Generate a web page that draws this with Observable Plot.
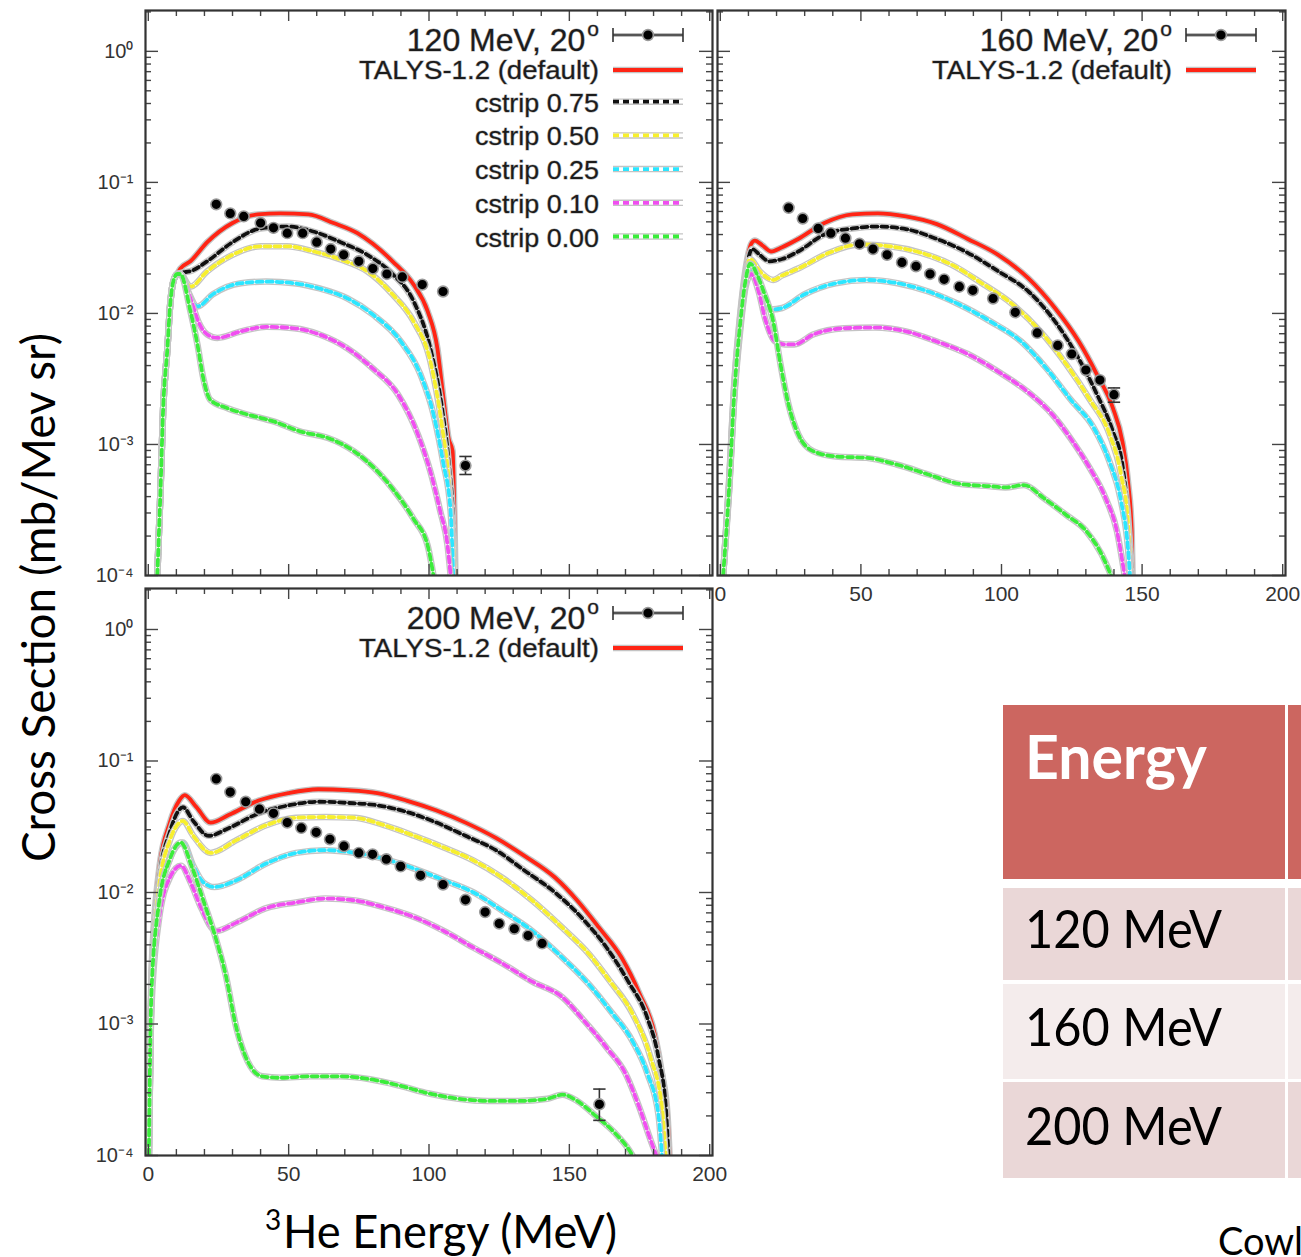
<!DOCTYPE html>
<html><head><meta charset="utf-8">
<script src="https://cdn.jsdelivr.net/npm/d3@7"></script>
<script src="https://cdn.jsdelivr.net/npm/@observablehq/plot@0.6"></script>
<style>
html,body{margin:0;padding:0;background:#fff;}
body{width:1301px;height:1257px;overflow:hidden;position:relative;font-family:"Liberation Sans",Arial,sans-serif;}
.pan{position:absolute;}
#over{position:absolute;left:0;top:0;}
</style></head><body>
<script>
// ---------- tick labels ----------
const xMajor = [0, 50, 100, 150, 200];
const xMinor = [10,20,30,40,60,70,80,90,110,120,130,140,160,170,180,190];
const yMajor = [1e-4, 1e-3, 1e-2, 1e-1, 1];
const yMinorMult = [2,3,4,5,6,7,8,9];

// ---------- series names / styles ----------
const curveNames = ["TALYS-1.2 (default)", "cstrip 0.75", "cstrip 0.50", "cstrip 0.25", "cstrip 0.10", "cstrip 0.00"];
const curveColors = ["#ff2414", "#111111", "#f7ef2e", "#2ce6ff", "#f04ff0", "#3bec3b"];
const curveDash = [null, "6,4", "6,4", "6,4", "6,4", "6,4"];

// ---------- 120 MeV ----------
const talys120 = [[3.2,1e-4],[4.3,4.2e-4],[5.3,1.9e-3],[6.8,5.4e-3],[7.8,1.17e-2],[8.9,1.75e-2],[10.3,2.0e-2],[11.4,2.2e-2],[15,2.5e-2],[21,3.5e-2],[30,4.9e-2],[39,5.7e-2],[47,5.8e-2],[57,5.7e-2],[66,4.9e-2],[74.5,4.1e-2],[80,3.4e-2],[87,2.5e-2],[94.5,1.66e-2],[99.5,1.04e-2],[103,5.4e-3],[105,2.4e-3],[107,1.11e-3],[108.4,8.9e-4],[109.4,1e-4]];
const c075_120 = [[3.2,1e-4],[4.3,4.2e-4],[5.3,1.9e-3],[6.8,5.4e-3],[7.8,1.17e-2],[8.9,1.75e-2],[10.3,2.0e-2],[12,2.05e-2],[15,2.1e-2],[21,2.5e-2],[30,3.5e-2],[40,4.45e-2],[49.5,4.6e-2],[59,4.2e-2],[68.5,3.5e-2],[78,2.8e-2],[87,2.0e-2],[94.5,1.24e-2],[100.5,5.4e-3],[104.8,1.8e-3],[107,7.4e-4],[108.7,2.3e-4],[109.2,1e-4]];
const c050_120 = [[3.2,1e-4],[4.3,4.2e-4],[5.3,1.9e-3],[6.8,5.4e-3],[7.8,1.17e-2],[8.9,1.75e-2],[10.3,2.0e-2],[11.4,2.0e-2],[15,1.6e-2],[21,2.1e-2],[30,2.8e-2],[40,3.25e-2],[49.5,3.25e-2],[59,2.97e-2],[68.5,2.58e-2],[78,2.1e-2],[87,1.4e-2],[94.5,8.7e-3],[100.5,4.3e-3],[104.8,1.3e-3],[107,5.5e-4],[108.7,1.7e-4],[109.2,1e-4]];
const c025_120 = [[3.2,1e-4],[4.3,4.2e-4],[5.3,1.9e-3],[6.8,5.4e-3],[7.8,1.17e-2],[8.9,1.75e-2],[10.3,2.0e-2],[11.4,2.0e-2],[14,1.5e-2],[17.5,1.13e-2],[23,1.4e-2],[33,1.7e-2],[42,1.75e-2],[52,1.7e-2],[61,1.55e-2],[71,1.3e-2],[80,9.8e-3],[90,6.1e-3],[97,3.4e-3],[101.6,1.7e-3],[105,7.4e-4],[107.7,3.1e-4],[108.6,1e-4]];
const c010_120 = [[3.2,1e-4],[4.3,4.2e-4],[5.3,1.9e-3],[6.8,5.4e-3],[7.8,1.17e-2],[8.9,1.75e-2],[10.3,2.0e-2],[11.4,2.0e-2],[15,1.3e-2],[18,8.5e-3],[21,6.9e-3],[24.6,6.5e-3],[33,7.3e-3],[42,7.9e-3],[52,7.7e-3],[61,6.9e-3],[71,5.4e-3],[80,3.8e-3],[89,2.4e-3],[96,1.2e-3],[100.5,6.2e-4],[104,3.1e-4],[106.6,1.7e-4],[107.7,1e-4]];
const c000_120 = [[3.2,1e-4],[4.3,4.2e-4],[5.3,1.9e-3],[6.8,5.4e-3],[7.8,1.17e-2],[8.9,1.75e-2],[10.3,2.0e-2],[11.4,2.0e-2],[15,1.04e-2],[17.5,5.8e-3],[19.6,3.2e-3],[22,2.2e-3],[28,1.9e-3],[35,1.7e-3],[44.6,1.5e-3],[54,1.26e-3],[64,1.12e-3],[68.5,1.02e-3],[78,7.4e-4],[87,4.6e-4],[94.5,2.7e-4],[99.5,1.7e-4],[101.6,1e-4]];
const data120 = [[24.2,0.068],[29.2,0.058],[34,0.055],[40,0.049],[44.6,0.045],[49.5,0.041],[55,0.041],[60,0.035],[65,0.031],[69.6,0.028],[75,0.025],[80,0.022],[85,0.020],[90.5,0.019],[97.6,0.0166],[105,0.0147],[113,6.9e-4]];
const err120 = [[113,5.9e-4,8.1e-4]];

// ---------- 160 MeV ----------
const talys160 = [[1,1e-4],[3.1,5.2e-4],[5,3e-3],[7.1,1e-2],[9.3,2.4e-2],[11,3.4e-2],[12.3,3.6e-2],[15,3.3e-2],[18,2.97e-2],[22,3.2e-2],[27.7,3.7e-2],[37,4.9e-2],[47,5.7e-2],[56,5.8e-2],[66,5.5e-2],[77,4.8e-2],[88,3.7e-2],[98.8,2.8e-2],[109.6,1.85e-2],[119,1.1e-2],[127.5,6.1e-3],[134,3.4e-3],[139.6,1.9e-3],[143,1.05e-3],[145,5.2e-4],[146.3,2.2e-4],[146.6,1e-4]];
const c075_160 = [[1,1e-4],[3.1,5e-4],[5,2.9e-3],[7.1,9.5e-3],[9.3,2.2e-2],[11.3,3.1e-2],[14,2.8e-2],[17.4,2.5e-2],[22,2.6e-2],[27.7,2.97e-2],[37,4.0e-2],[47,4.45e-2],[56,4.6e-2],[66,4.4e-2],[77,3.7e-2],[88,2.9e-2],[98.8,2.1e-2],[109.6,1.47e-2],[119,8.7e-3],[127.5,4.5e-3],[134,2.4e-3],[139.6,1.26e-3],[143,7e-4],[145,2.9e-4],[146.4,1e-4]];
const c050_160 = [[1,1e-4],[3.1,4.8e-4],[5,2.7e-3],[7.1,8.5e-3],[9,1.9e-2],[10.6,2.6e-2],[14,2.1e-2],[18.8,1.8e-2],[22,1.95e-2],[27.7,2.2e-2],[38.6,2.9e-2],[49.5,3.36e-2],[60.4,3.25e-2],[71.4,2.9e-2],[82,2.37e-2],[93,1.7e-2],[104,1.17e-2],[113.8,7.3e-3],[123,4.1e-3],[131.4,2.2e-3],[138.4,1.2e-3],[142.5,5.9e-4],[145,2.5e-4],[146,1e-4]];
const c025_160 = [[1,1e-4],[3.1,4.5e-4],[5,2.5e-3],[7.1,8e-3],[9,1.7e-2],[10.6,2.2e-2],[13,1.8e-2],[16,1.2e-2],[18,1.07e-2],[22,1.1e-2],[30,1.4e-2],[41,1.7e-2],[52,1.8e-2],[63,1.7e-2],[74,1.47e-2],[85,1.17e-2],[96,8.7e-3],[107,6.1e-3],[116,3.8e-3],[124.6,2.2e-3],[132.9,1.33e-3],[138.4,7.4e-4],[142.5,3.7e-4],[145,1.6e-4],[145.7,1e-4]];
const c010_160 = [[1,1e-4],[3.1,4.3e-4],[5,2.3e-3],[7.1,7.5e-3],[9,1.6e-2],[11,2.0e-2],[13.5,1.5e-2],[16,9e-3],[19.5,6.1e-3],[23,5.8e-3],[26.3,5.8e-3],[33,6.9e-3],[44,7.7e-3],[55,7.8e-3],[66,7.3e-3],[77,6.1e-3],[88,4.9e-3],[98.8,3.6e-3],[109.6,2.5e-3],[118,1.7e-3],[124.6,1.11e-3],[131.4,6.6e-4],[137,3.9e-4],[141,2.2e-4],[143.8,1e-4]];
const c000_160 = [[1,1e-4],[3.1,4.5e-4],[5,2.5e-3],[7.1,8.5e-3],[9,1.8e-2],[10.6,2.4e-2],[13,2e-2],[15.4,1.47e-2],[18.8,8.7e-3],[21.4,4.1e-3],[24.3,2e-3],[27.7,1.2e-3],[33,8.9e-4],[41,8.1e-4],[52,7.9e-4],[63,7e-4],[74,5.9e-4],[85,5e-4],[96,4.8e-4],[101.4,4.7e-4],[108,4.9e-4],[115,3.9e-4],[123,2.9e-4],[130,2.2e-4],[135.6,1.45e-4],[139,1e-4]];
const data160 = [[24.3,0.064],[29.3,0.053],[34.8,0.0445],[39.3,0.041],[44.5,0.0375],[49.5,0.034],[54.3,0.031],[59.3,0.028],[64.6,0.0245],[69.6,0.0229],[74.6,0.020],[79.6,0.0182],[85,0.016],[89.8,0.015],[97,0.013],[104.9,0.0102],[112.7,0.0071],[120,0.0057],[125,0.0049],[130,0.0037],[135,0.0031],[140,0.0024]];
const err160 = [[140,0.0021,0.0027]];

// ---------- 200 MeV ----------
const talys200 = [[0.2,1e-4],[1.1,2.4e-3],[3.7,1.4e-2],[7.7,3.4e-2],[11,5.0e-2],[13,5.5e-2],[17,4.5e-2],[22.2,3.4e-2],[28.8,3.9e-2],[39.3,5.0e-2],[49.9,5.7e-2],[60.5,6.1e-2],[71,6.0e-2],[81.6,5.7e-2],[92,5.0e-2],[102.7,4.2e-2],[113,3.4e-2],[123.8,2.6e-2],[134,1.9e-2],[144.9,1.3e-2],[152.8,8.7e-3],[160.6,5.4e-3],[168.6,3.2e-3],[175,1.7e-3],[180.4,8.4e-4],[183,4.2e-4],[185,2e-4],[185.7,1e-4]];
const c075_200 = [[0.2,1e-4],[1.1,2.2e-3],[3.7,1.2e-2],[7.7,2.9e-2],[10.5,4.1e-2],[12.3,4.45e-2],[16,3.5e-2],[21.5,2.7e-2],[28.8,3.1e-2],[39.3,4.0e-2],[50,4.6e-2],[60.5,4.9e-2],[71,4.8e-2],[81.6,4.6e-2],[92,4.1e-2],[102.7,3.4e-2],[113,2.7e-2],[123.8,2.1e-2],[134,1.47e-2],[144.9,1.0e-2],[155.4,6.1e-3],[163.3,3.8e-3],[171,2.1e-3],[177.8,1.11e-3],[181.8,5.5e-4],[184.4,2.3e-4],[185.3,1e-4]];
const c050_200 = [[0.2,1e-4],[1.1,2e-3],[3.7,1.05e-2],[7.7,2.5e-2],[10.5,3.3e-2],[12.3,3.5e-2],[16,2.7e-2],[22.2,2.0e-2],[31.4,2.5e-2],[42,3.25e-2],[52.6,3.7e-2],[63,3.75e-2],[73.7,3.7e-2],[84,3.25e-2],[94.7,2.7e-2],[105.3,2.2e-2],[115.9,1.75e-2],[126,1.3e-2],[136.8,8.7e-3],[147.5,5.4e-3],[157,3.4e-3],[164.6,2.1e-3],[172.5,1.2e-3],[179,5.5e-4],[183,2.3e-4],[184.3,1e-4]];
const c025_200 = [[0.2,1e-4],[1.1,1.7e-3],[3.7,8e-3],[7.7,1.8e-2],[10.5,2.3e-2],[12.3,2.4e-2],[16,1.6e-2],[19.5,1.2e-2],[23.5,1.1e-2],[31.4,1.24e-2],[42,1.66e-2],[52.6,2.0e-2],[63,2.1e-2],[73.7,2.0e-2],[84,1.8e-2],[94.7,1.52e-2],[105.3,1.24e-2],[115.9,1.0e-2],[126,7.3e-3],[136.8,5.1e-3],[147.5,3.2e-3],[157,2.0e-3],[164.6,1.26e-3],[172.5,7.4e-4],[177.8,4.2e-4],[181.8,2e-4],[183,1e-4]];
const c010_200 = [[0.2,1e-4],[1.1,1.3e-3],[3.7,6e-3],[7.7,1.3e-2],[11.6,1.6e-2],[15,1.2e-2],[19,7.5e-3],[24,5.1e-3],[31.4,5.9e-3],[42,7.6e-3],[52.6,8.4e-3],[63,9.0e-3],[73.7,8.7e-3],[84,7.7e-3],[94.7,6.5e-3],[105.3,5.1e-3],[115.9,3.8e-3],[126,2.9e-3],[136.8,2.1e-3],[147.5,1.6e-3],[155.4,1.05e-3],[163.3,6.6e-4],[170,4.2e-4],[175,2.3e-4],[179,1.3e-4],[181,1e-4]];
const c000_200 = [[0.2,1e-4],[1.1,1.7e-3],[3.7,8e-3],[7.7,1.8e-2],[11.6,2.4e-2],[15.6,1.55e-2],[19.6,8.7e-3],[23.5,4.9e-3],[27.5,2.4e-3],[31.4,9.3e-4],[35.4,5.2e-4],[40.6,4e-4],[47.3,3.9e-4],[57.8,4e-4],[68.4,4e-4],[79,3.8e-4],[89.5,3.4e-4],[100,2.96e-4],[110.5,2.7e-4],[121,2.6e-4],[131.7,2.6e-4],[142.2,2.7e-4],[147.5,2.9e-4],[152.8,2.6e-4],[159.4,2e-4],[166,1.5e-4],[171.3,1.1e-4],[172.5,1e-4]];
const data200 = [[24.2,0.073],[29.2,0.058],[34.7,0.049],[39.6,0.043],[44.6,0.040],[49.5,0.034],[54.5,0.031],[59.8,0.0287],[64.7,0.0254],[69.7,0.0225],[75,0.020],[79.9,0.0195],[84.8,0.0179],[89.9,0.0158],[97,0.0135],[105,0.0115],[113,0.0088],[120,0.0071],[125,0.0058],[130.4,0.0053],[135.3,0.0047],[140.3,0.0041],[160.7,2.45e-4]];
const err200 = [[160.7,1.85e-4,3.2e-4]];

// ---------- table ----------
const tableHeader = "Energy";
const tableRows = ["120 MeV", "160 MeV", "200 MeV"];

const xDomain = [-1, 201];
const yDomain = [1e-4, 2.05];
const sup = {"-":"\u207B","0":"\u2070","1":"\u00B9","2":"\u00B2","3":"\u00B3","4":"\u2074"};
const fmtY = d => "10" + String(Math.round(Math.log10(d))).split("").map(c => sup[c]).join("");
const yMinor = yMajor.flatMap(d => yMinorMult.map(k => k * d)).filter(v => v < yDomain[1]);

function makePanel(cfg) {
  const {curves, data, errs, width, height, mt, mb, ml, mr, showX, showY} = cfg;
  const pw = width - ml - mr, ph = height - mt - mb;
  const X = d => d[0], Y = d => d[1];
  const marks = [];
  curves.forEach((pts, i) => {
    marks.push(Plot.line(pts, {x: X, y: Y, stroke: "#c4c4c4", strokeWidth: 6.5, curve: "monotone-x", clip: true}));
    if (curveDash[i]) marks.push(Plot.line(pts, {x: X, y: Y, stroke: "#ffffff", strokeWidth: 3.8, curve: "monotone-x", clip: true}));
    marks.push(Plot.line(pts, {x: X, y: Y, stroke: curveColors[i], strokeWidth: 3.8, strokeDasharray: curveDash[i] || undefined, curve: "monotone-x", clip: true}));
  });
  marks.push(Plot.ruleX(errs, {x: d => d[0], y1: d => d[1], y2: d => d[2], stroke: "#333", strokeWidth: 1.6}));
  marks.push(Plot.link(errs, {x1: d => d[0] - 2.2, x2: d => d[0] + 2.2, y1: d => d[1], y2: d => d[1], stroke: "#333", strokeWidth: 1.6}));
  marks.push(Plot.link(errs, {x1: d => d[0] - 2.2, x2: d => d[0] + 2.2, y1: d => d[2], y2: d => d[2], stroke: "#333", strokeWidth: 1.6}));
  marks.push(Plot.dot(data, {x: X, y: Y, r: 5.4, fill: "#000", stroke: "#9a9a9a", strokeWidth: 1.6}));
  const tk = {stroke: "#444", strokeWidth: 1.4};
  marks.push(Plot.ruleX(xMajor, {...tk, insetTop: ph - 11}));
  marks.push(Plot.ruleX(xMajor, {...tk, insetBottom: ph - 11}));
  marks.push(Plot.ruleX(xMinor, {...tk, insetTop: ph - 6}));
  marks.push(Plot.ruleX(xMinor, {...tk, insetBottom: ph - 6}));
  marks.push(Plot.ruleY(yMajor, {...tk, insetRight: pw - 13}));
  marks.push(Plot.ruleY(yMajor, {...tk, insetLeft: pw - 13}));
  marks.push(Plot.ruleY(yMinor, {...tk, insetRight: pw - 6}));
  marks.push(Plot.ruleY(yMinor, {...tk, insetLeft: pw - 6}));
  marks.push(Plot.frame({stroke: "#333", strokeWidth: 2.2}));
  if (showY) marks.push(Plot.axisY(yMajor, {tickSize: 0, tickPadding: 12, tickFormat: fmtY, fontSize: 20, fill: "#333", label: null}));
  if (showX) marks.push(Plot.axisX(xMajor, {tickSize: 0, tickPadding: 11, fontSize: 21, fill: "#333", label: null}));
  return Plot.plot({
    width, height, marginTop: mt, marginBottom: mb, marginLeft: ml, marginRight: mr,
    x: {type: "linear", domain: xDomain, axis: null},
    y: {type: "log", domain: yDomain, axis: null},
    style: {background: "transparent", overflow: "visible", fontFamily: "Liberation Sans, Arial, sans-serif"},
    marks
  });
}

function addLegend(svg, right, top, title, nRows) {
  const g = d3.select(svg).append("g").attr("font-family", "Liberation Sans, Arial, sans-serif");
  const txt = sel => sel.attr("fill", "#1c1c1c").attr("stroke", "#b4b4b4").attr("stroke-width", 1).attr("paint-order", "stroke");
  const t = g.append("text").attr("x", right - 113).attr("y", top + 41).attr("text-anchor", "end").attr("font-size", 32).call(txt);
  t.append("tspan").text(title);
  t.append("tspan").attr("font-size", 21).attr("dy", -15).attr("dx", 2).text("o");
  const sy = top + 25, x1 = right - 99, x2 = right - 29;
  g.append("line").attr("x1", x1).attr("x2", x2).attr("y1", sy).attr("y2", sy).attr("stroke", "#bbb").attr("stroke-width", 4);
  g.append("line").attr("x1", x1).attr("x2", x2).attr("y1", sy).attr("y2", sy).attr("stroke", "#333").attr("stroke-width", 1.6);
  [x1, x2].forEach(x => g.append("line").attr("x1", x).attr("x2", x).attr("y1", sy - 7).attr("y2", sy + 7).attr("stroke", "#333").attr("stroke-width", 1.6));
  g.append("circle").attr("cx", right - 64).attr("cy", sy).attr("r", 5.4).attr("fill", "#000").attr("stroke", "#9a9a9a").attr("stroke-width", 1.6);
  for (let i = 0; i < nRows; i++) {
    const ly = i === 0 ? top + 60 : top + 91.7 + (i - 1) * 33.7;
    const by = i === 0 ? ly + 9 : ly + 10;
    g.append("line").attr("x1", x1).attr("x2", x2).attr("y1", ly).attr("y2", ly).attr("stroke", "#c4c4c4").attr("stroke-width", 6.5);
    if (curveDash[i]) g.append("line").attr("x1", x1).attr("x2", x2).attr("y1", ly).attr("y2", ly).attr("stroke", "#fff").attr("stroke-width", 3.8);
    g.append("line").attr("x1", x1).attr("x2", x2).attr("y1", ly).attr("y2", ly).attr("stroke", curveColors[i])
      .attr("stroke-width", 3.8).attr("stroke-dasharray", curveDash[i] || null);
    g.append("text").attr("x", right - 113).attr("y", by).attr("text-anchor", "end").attr("font-size", 25.5)
      .attr("textLength", curveNames[i].length > 12 ? 240 : 124).attr("lengthAdjust", "spacingAndGlyphs")
      .call(txt).text(curveNames[i]);
  }
}

function place(el, left, top, w) {
  const d = document.createElement("div");
  d.className = "pan"; d.style.left = left + "px"; d.style.top = top + "px"; d.style.width = w + "px";
  d.appendChild(el); document.body.appendChild(d);
}

const p2 = makePanel({curves: [talys160, c075_160, c050_160, c025_160, c010_160, c000_160], data: data160, errs: err160,
  width: 572, height: 615, mt: 10, mb: 40, ml: 2, mr: 2, showX: true, showY: false});
addLegend(p2, 570, 10, "160 MeV, 20", 1);
place(p2, 715, 0, 572);

const p1 = makePanel({curves: [talys120, c075_120, c050_120, c025_120, c010_120, c000_120], data: data120, errs: err120,
  width: 714, height: 577, mt: 10, mb: 2, ml: 145, mr: 2, showX: false, showY: true});
addLegend(p1, 712, 10, "120 MeV, 20", 6);
place(p1, 0, 0, 714);

const p3 = makePanel({curves: [talys200, c075_200, c050_200, c025_200, c010_200, c000_200], data: data200, errs: err200,
  width: 714, height: 612, mt: 10, mb: 35, ml: 145, mr: 2, showX: true, showY: true});
addLegend(p3, 712, 10, "200 MeV, 20", 1);
place(p3, 0, 578, 714);

const ov = d3.select(document.body).append("svg").attr("id", "over").attr("width", 1301).attr("height", 1257)
  .attr("font-family", "Lato, 'Open Sans', sans-serif");
ov.append("text").attr("transform", "translate(55,597.5) rotate(-90)").attr("text-anchor", "middle")
  .attr("font-size", 47).attr("fill", "#000").attr("textLength", 529).attr("lengthAdjust", "spacingAndGlyphs")
  .text("Cross Section (mb/Mev sr)");
ov.append("text").attr("x", 265).attr("y", 1230).attr("font-size", 28).attr("fill", "#000").text("3");
ov.append("text").attr("x", 283).attr("y", 1248).attr("font-size", 46).attr("fill", "#000")
  .attr("textLength", 334).attr("lengthAdjust", "spacingAndGlyphs").text("He Energy (MeV)");

const colL = [1003, 1288], colW = [282, 60];
const rowsY = [[705, 174], [888, 92], [984, 95], [1082, 96]];
const rowFill = ["#cc6660", "#ead7d7", "#f4ecec", "#ead7d7"];
rowsY.forEach(([y, h], r) => colL.forEach((x, c) => ov.append("rect").attr("x", x).attr("y", y).attr("width", colW[c]).attr("height", h).attr("fill", rowFill[r])));
ov.append("text").attr("x", 1025).attr("y", 779).attr("font-size", 62).attr("font-weight", 700).attr("fill", "#fff")
  .attr("textLength", 182).attr("lengthAdjust", "spacingAndGlyphs").text(tableHeader);
const baseY = [948, 1046, 1145];
tableRows.forEach((t, i) => ov.append("text").attr("x", 1025).attr("y", baseY[i]).attr("font-size", 52).attr("fill", "#000")
  .attr("textLength", 197).attr("lengthAdjust", "spacingAndGlyphs").text(t));
ov.append("text").attr("x", 1218).attr("y", 1255).attr("font-size", 38).attr("fill", "#000").text("Cowley et al.");
</script>
</body></html>
